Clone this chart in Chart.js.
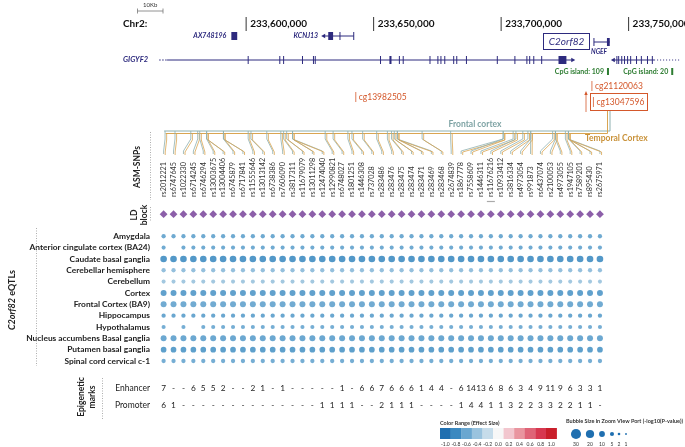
<!DOCTYPE html>
<html>
<head>
<meta charset="utf-8">
<script src="https://cdn.jsdelivr.net/npm/chart.js@4.4.1/dist/chart.umd.min.js"></script>
<style>
  html, body { margin: 0; padding: 0; background: #fff; overflow: hidden; }
  canvas { display: block; }
</style>
</head>
<body>
<canvas id="eqtlChart" width="685" height="447"></canvas>
<script>
// ---- data ----
const snps = ['rs2012221','rs6747645','rs1022330','rs6714245','rs6746294','rs13003675','rs13004406','rs6745879','rs6717841','rs11555646','rs13013142','rs6738386','rs7606090','rs3817311','rs11679079','rs13011298','rs12474040','rs12990821','rs6748027','rs1801251','rs1446308','rs737028','rs283486','rs283476','rs283475','rs283474','rs283471','rs283469','rs283468','rs2674839','rs1867778','rs7558609','rs1446311','rs11676216','rs10933412','rs3816334','rs4973054','rs991873','rs6437074','rs2100053','rs4973055','rs1947105','rs7589201','rs895430','rs2675971'];

// approx. chr2 position (kb) of each SNP on the genome track
const snpKb = [233568.2,233572.1,233578.3,233581.0,233581.8,233584.5,233584.5,233591.1,233591.1,233600.8,233601.9,233608.1,233613.6,233614.7,233615.9,233618.2,233618.2,233631.0,233634.1,233639.9,233641.5,233645.7,233651.2,233655.4,233657.0,233658.1,233659.3,233659.3,233669.0,233680.2,233700.8,233700.8,233704.7,233705.8,233708.5,233710.5,233711.6,233711.6,233720.2,233721.3,233721.3,233725.2,233726.4,233726.4,233726.4];

const tissues = ['Amygdala','Anterior cingulate cortex (BA24)','Caudate basal ganglia','Cerebellar hemisphere','Cerebellum','Cortex','Frontal Cortex (BA9)','Hippocampus','Hypothalamus','Nucleus accumbens Basal ganglia','Putamen basal ganglia','Spinal cord cervical c-1'];
const effectSize = [-0.58,-0.57,-0.70,-0.42,-0.36,-0.64,-0.57,-0.60,-0.55,-0.59,-0.65,-0.55];
const negLog10P  = [5.5, 5.0, 13.0, 5.5, 4.8, 10.5, 10.5, 5.5, 5.0, 10.5, 9.5, 5.5];
// SNP columns (1-based) with no eQTL bubble
const noEqtl = { 'Anterior cingulate cortex (BA24)': [2], 'Hypothalamus': [2, 4] };

const enhancer = [7,null,null,6,5,5,2,null,null,2,1,null,1,null,null,null,null,null,1,null,6,6,7,6,6,6,1,4,4,null,6,14,13,6,8,6,3,4,9,11,9,6,3,3,1];
const promoter = [6,1,null,null,null,null,null,null,null,null,null,null,null,null,null,null,1,1,1,1,null,null,2,1,1,1,null,null,null,null,1,4,4,1,1,3,2,2,3,3,2,2,1,1,null];

const chrTicksKb = [233600, 233650, 233700, 233750];
const effectTicks = [-1.0,-0.8,-0.6,-0.4,-0.2,0.0,0.2,0.4,0.6,0.8,1.0];
const effectColors = ['#1f6fb0','#3b89c0','#6aa7d0','#9ac3de','#c6dcea','#f7f7f7','#f2c6ce','#e9959f','#df6477','#d73850','#c91f2b'];
const sizeTicks = [30, 20, 10, 5, 2, 1];

// gene models (kb)
const gigyf2 = { start: 233569.0, end: 233727.9, dashFrom: 233565.9,
  exons: [233600.8,233613.2,233614.7,233622.1,233626.4,233627.1,233652.7,233656.6,233660.1,233661.6,233672.1,233675.2,233676.4,233677.9,233681.4,233682.6,233686.4,233698.5,233705.4,233710.1,233711.2,233712.8,233715.9],
  blocks: [[233656.2, 233657.0], [233722.5, 233725.6]] };
const kcnj13 = { start: 233630.6, end: 233642.2, exons: [233636.8, 233642.2], blocks: [[233632.2, 233634.1]] };
const ax748196 = { blocks: [[233594.2, 233596.5]] };
const c2orf82 = { start: 233736.4, end: 233742.6, exons: [233736.4], blocks: [[233741.5, 233742.6]] };
const ngef = { start: 233744.2, end: 233760.0, dottedTo: 233770.5,
  exons: [233745.4,233746.1,233747.3,233748.4,233749.6,233750.8,233753.1,233755.0,233757.4,233759.3] };
const cpgIslands = [{ label: 'CpG island: 109', kb: 233741.9 }, { label: 'CpG island: 20', kb: 233767.1 }];
const cpgProbes = { cg13982505: 233643.0, cg21120063: 233735.6, cg13047596: 233736.2 };
const scaleBarKb = 233557.4;

// ---- layout (pixels / scale ranges) ----
const W = 685, H = 447;
const X_MIN = -15.095, X_MAX = 53.173;          // SNP column scale
const KB_MIN = 233505.04, KB_MAX = 233770.54;   // genome scale
const Y_MIN = -19.485, Y_MAX = 19.233;          // tissue row scale
const rowFromPx = px => Y_MIN + px / H * (Y_MAX - Y_MIN);
const LD_ROW = rowFromPx(214);
const FONT = 'Lato, "Open Sans", sans-serif';
const NAVY = '#2d2a7e';

function effectColor(v) {
  const t = (v + 1) / 0.2, i = Math.max(0, Math.min(9, Math.floor(t))), f = t - i;
  const a = effectColors[i], b = effectColors[i + 1];
  const c = k => Math.round(parseInt(a.substr(k, 2), 16) * (1 - f) + parseInt(b.substr(k, 2), 16) * f);
  return `rgb(${c(1)},${c(3)},${c(5)})`;
}
const bubbleR = p => 0.92 * Math.sqrt(p);

const datasets = tissues.map((t, i) => ({
  label: t,
  data: snps.map((s, j) => ({ x: j + 1, y: i + 1, r: bubbleR(negLog10P[i]) }))
            .filter(p => !(noEqtl[t] || []).includes(p.x)),
  backgroundColor: effectColor(effectSize[i]),
  borderWidth: 0
}));
datasets.push({
  label: 'LD block',
  data: snps.map((s, j) => ({ x: j + 1, y: LD_ROW, r: 3.9 })),
  pointStyle: 'rectRot',
  backgroundColor: '#8c5fa9',
  borderWidth: 0
});

// ---- drawing helpers ----
function txt(ctx, s, x, y, font, color, align = 'left', base = 'middle') {
  ctx.font = font; ctx.fillStyle = color; ctx.textAlign = align; ctx.textBaseline = base;
  ctx.fillText(s, x, y);
}
function vtxt(ctx, s, x, y, font, color, align = 'center') {
  ctx.save(); ctx.translate(x, y); ctx.rotate(-Math.PI / 2);
  txt(ctx, s, 0, 0, font, color, align, 'middle'); ctx.restore();
}
function line(ctx, pts, color, w = 1, dash) {
  ctx.save(); ctx.beginPath(); ctx.strokeStyle = color; ctx.lineWidth = w;
  if (dash) ctx.setLineDash(dash);
  pts.forEach((p, k) => k ? ctx.lineTo(p[0], p[1]) : ctx.moveTo(p[0], p[1]));
  ctx.stroke(); ctx.restore();
}
function gene(ctx, gx, g, y, arrow) {
  if (g.dashFrom) line(ctx, [[gx(g.dashFrom), y], [gx(g.start), y]], NAVY, 1, [1.5, 1.5]);
  if (g.start !== undefined) line(ctx, [[gx(g.start), y], [gx(g.end), y]], NAVY, 1);
  if (g.dottedTo) line(ctx, [[gx(g.end), y], [gx(g.dottedTo), y]], NAVY, 1, [1, 2]);
  (g.exons || []).forEach(e => line(ctx, [[gx(e), y - 4], [gx(e), y + 4]], NAVY, 1));
  ctx.fillStyle = NAVY;
  (g.blocks || []).forEach(b => ctx.fillRect(gx(b[0]), y - 4, Math.max(2, gx(b[1]) - gx(b[0])), 8));
  if (arrow) {
    const ax = arrow === 'right' ? gx(g.end) + 3 : gx(g.start) - 3, d = arrow === 'right' ? 1 : -1;
    ctx.beginPath(); ctx.moveTo(ax, y); ctx.lineTo(ax - 4 * d, y - 2.2); ctx.lineTo(ax - 4 * d, y + 2.2);
    ctx.closePath(); ctx.fill();
  }
}

const decorations = {
  id: 'decorations',
  afterDatasetsDraw(chart) {
    const { ctx, scales } = chart;
    const cx = v => scales.x.getPixelForValue(v);
    const gx = v => scales.xg.getPixelForValue(v);
    const ry = v => scales.y.getPixelForValue(v);

    // --- genome track ---
    const sb0 = gx(scaleBarKb), sb1 = gx(scaleBarKb + 10);
    line(ctx, [[sb0, 11], [sb1, 11]], '#777', 0.8);
    line(ctx, [[sb0, 8.5], [sb0, 13.5]], '#777', 0.8);
    line(ctx, [[sb1, 8.5], [sb1, 13.5]], '#777', 0.8);
    txt(ctx, '10Kb', (sb0 + sb1) / 2, 5, `6px ${FONT}`, '#333', 'center');

    txt(ctx, 'Chr2:', 123, 24, `bold 10px ${FONT}`, '#111');
    chrTicksKb.forEach(t => {
      line(ctx, [[gx(t), 17], [gx(t), 31]], '#333', 1);
      txt(ctx, (t * 1000).toLocaleString('en-US'), gx(t) + 4, 24, `bold 10px ${FONT}`, '#111');
    });

    gene(ctx, gx, ax748196, 36);
    txt(ctx, 'AX748196', gx(ax748196.blocks[0][0]) - 5, 36, `italic bold 7px ${FONT}`, NAVY, 'right');
    gene(ctx, gx, kcnj13, 36, 'left');
    txt(ctx, 'KCNJ13', gx(kcnj13.start) - 6, 36, `italic bold 7px ${FONT}`, NAVY, 'right');

    ctx.strokeStyle = NAVY; ctx.lineWidth = 1;
    ctx.strokeRect(543.5, 33.5, 46, 16);
    txt(ctx, 'C2orf82', 566.5, 42, `italic 10px ${FONT}`, NAVY, 'center');
    gene(ctx, gx, c2orf82, 42);

    gene(ctx, gx, gigyf2, 60, 'right');
    txt(ctx, 'GIGYF2', 148, 60, `italic bold 7.5px ${FONT}`, NAVY, 'right');
    gene(ctx, gx, ngef, 60, 'left');
    txt(ctx, 'NGEF', 591, 52, `italic bold 6.5px ${FONT}`, NAVY, 'left');

    cpgIslands.forEach(c => {
      ctx.fillStyle = '#2e7d32'; ctx.fillRect(gx(c.kb) - 1, 68, 2, 7);
      txt(ctx, c.label, gx(c.kb) - 4, 72, `bold 7px ${FONT}`, '#2e7d32', 'right');
    });

    const ORANGE = '#d4582b';
    const probe = (name, y, size) => {
      const px = gx(cpgProbes[name]);
      line(ctx, [[px, y - 5], [px, y + 5]], ORANGE, 0.8);
      txt(ctx, name, px + 3, y, `${size}px ${FONT}`, ORANGE, 'left');
    };
    probe('cg13982505', 97, 8.5);
    probe('cg21120063', 86, 8.5);
    ctx.strokeStyle = ORANGE; ctx.lineWidth = 1;
    ctx.strokeRect(590.5, 93.5, 57, 17);
    probe('cg13047596', 102, 8.5);
    // arrow to the probes
    line(ctx, [[586, 112], [586, 94]], ORANGE, 0.8);
    ctx.fillStyle = ORANGE; ctx.beginPath();
    ctx.moveTo(586, 91); ctx.lineTo(584.3, 95); ctx.lineTo(587.7, 95); ctx.closePath(); ctx.fill();

    // --- tissue brackets and SNP connectors ---
    const TEAL = '#8eb0b0', GOLD = '#d9a552';
    line(ctx, [[cx(1) + 0.5, 131], [610, 131], [610, 111]], TEAL, 1);
    line(ctx, [[cx(1) + 2, 133.5], [607.5, 133.5], [607.5, 111]], GOLD, 1);
    txt(ctx, 'Frontal cortex', 475, 124, `bold 8.5px ${FONT}`, '#7ea3a4', 'center');
    txt(ctx, 'Temporal Cortex', 585, 138, `bold 8.5px ${FONT}`, '#c9923a', 'left');
    snps.forEach((s, j) => {
      const t = gx(snpKb[j]), l = cx(j + 1);
      line(ctx, [[t, 131], [t, 139], [l, 151], [l, 154]], TEAL, 0.8);
      line(ctx, [[t + 1.6, 133.5], [t + 1.6, 140], [l + 1.6, 152], [l + 1.6, 155]], GOLD, 0.8);
      vtxt(ctx, s, l, 197, `7.2px ${FONT}`, '#333', 'left');
    });
    line(ctx, [[cx(34) - 4, 201.5], [cx(34) + 4, 201.5]], '#aaa', 1.2);

    // --- left titles ---
    const DOT = [1, 1.5];
    vtxt(ctx, 'ASM-SNPs', 137, 167, `bold 8.5px ${FONT}`, '#222');
    line(ctx, [[150.5, 132], [150.5, 200]], '#999', 0.8, DOT);
    vtxt(ctx, 'LD', 134, 215, `bold 8.5px ${FONT}`, '#222');
    vtxt(ctx, 'block', 144, 215, `bold 8.5px ${FONT}`, '#222');
    line(ctx, [[150.5, 207], [150.5, 222]], '#999', 0.8, DOT);

    tissues.forEach((t, i) => txt(ctx, t, 150, ry(i + 1), `bold 8.4px ${FONT}`, '#222', 'right'));
    line(ctx, [[36.5, 228], [36.5, 366]], '#999', 0.8, DOT);
    ctx.save(); ctx.translate(12, 300); ctx.rotate(-Math.PI / 2);
    ctx.font = `italic bold 9px ${FONT}`;
    const w1 = ctx.measureText('C2orf82').width;
    ctx.font = `bold 9px ${FONT}`;
    const w2 = ctx.measureText(' eQTLs').width;
    txt(ctx, 'C2orf82', -(w1 + w2) / 2, 0, `italic bold 9px ${FONT}`, '#222', 'left');
    txt(ctx, ' eQTLs', -(w1 + w2) / 2 + w1, 0, `bold 9px ${FONT}`, '#222', 'left');
    ctx.restore();

    // --- epigenetic marks ---
    vtxt(ctx, 'Epigenetic', 81, 397, `bold 8.5px ${FONT}`, '#222');
    vtxt(ctx, 'marks', 92, 397, `bold 8.5px ${FONT}`, '#222');
    line(ctx, [[102.5, 378], [102.5, 420]], '#999', 0.8, DOT);
    txt(ctx, 'Enhancer', 150, 388, `8.5px ${FONT}`, '#222', 'right');
    txt(ctx, 'Promoter', 150, 405, `8.5px ${FONT}`, '#222', 'right');
    snps.forEach((s, j) => {
      txt(ctx, enhancer[j] === null ? '-' : String(enhancer[j]), cx(j + 1), 388, `8.3px ${FONT}`, '#222', 'center');
      txt(ctx, promoter[j] === null ? '-' : String(promoter[j]), cx(j + 1), 405, `8.3px ${FONT}`, '#222', 'center');
    });

    // --- colour legend ---
    txt(ctx, 'Color Range (Effect Size)', 440, 423, `bold 5.5px ${FONT}`, '#333', 'left');
    const bw = 10.6;
    effectColors.forEach((c, k) => {
      ctx.fillStyle = c; ctx.fillRect(440 + k * bw, 428, bw + 0.3, 11);
      txt(ctx, effectTicks[k].toFixed(1), 440 + k * bw + bw / 2, 444, `5px ${FONT}`, '#333', 'center');
    });

    // --- bubble size legend ---
    txt(ctx, 'Bubble Size in Zoom View Port (-log10(P-value))', 566, 421, `bold 5.5px ${FONT}`, '#333', 'left');
    const sx = [576, 590, 602, 612, 619, 626];
    sizeTicks.forEach((v, k) => {
      ctx.fillStyle = '#1f6fb0'; ctx.beginPath();
      ctx.arc(sx[k], 434, bubbleR(v), 0, Math.PI * 2); ctx.fill();
      txt(ctx, String(v), sx[k], 444, `5px ${FONT}`, '#333', 'center');
    });
  }
};

const ctx = document.getElementById('eqtlChart').getContext('2d');
const eqtlChart = new Chart(ctx, {
  type: 'bubble',
  data: { datasets },
  options: {
    responsive: false,
    animation: false,
    events: [],
    layout: { padding: 0 },
    plugins: { legend: { display: false }, tooltip: { enabled: false } },
    scales: {
      x:  { type: 'linear', min: X_MIN, max: X_MAX, display: false },
      xg: { type: 'linear', axis: 'x', position: 'top', min: KB_MIN, max: KB_MAX, display: false },
      y:  { type: 'linear', min: Y_MIN, max: Y_MAX, reverse: true, display: false }
    }
  },
  plugins: [decorations]
});
</script>
</body>
</html>
